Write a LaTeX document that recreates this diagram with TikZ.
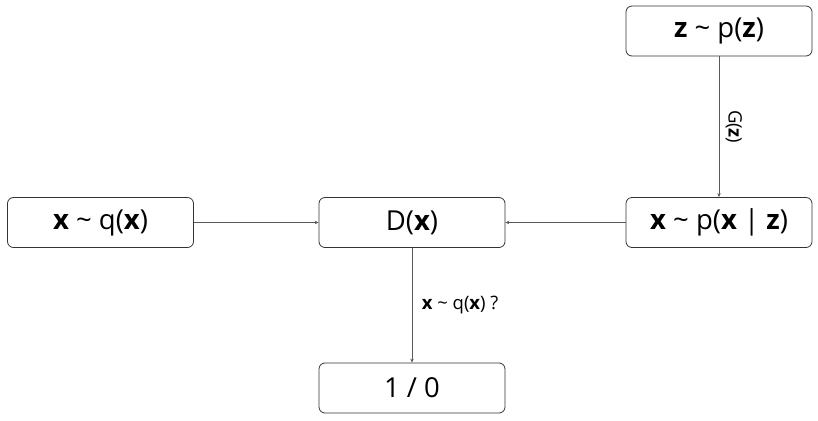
\documentclass[tikz,border=0pt]{standalone}
\usepackage{fontspec}
\setmainfont{Open Sans}
\usetikzlibrary{arrows.meta}
\begin{document}
\begin{tikzpicture}[x=1pt,y=-1pt,
  box/.style={draw=black!80, line width=0.8pt, rounded corners=6pt,
    minimum width=186pt, minimum height=50pt, inner sep=0pt,
    font=\fontsize{27.5}{32}\selectfont, text=black},
  link/.style={draw=black!65, line width=0.9pt, -{Stealth[length=4pt,width=3.5pt]}},
  lbl/.style={font=\fontsize{18.5}{22}\selectfont, text=black}]
  \useasboundingbox (0,0) rectangle (818,420);
  % blocks
  \node[box] (prior) at (719,31) {\textbf{z} \textasciitilde{} p(\textbf{z})};
  \node[box] (gen)   at (719,222.5) {\textbf{x} \textasciitilde{} p(\textbf{x} | \textbf{z})};
  \node[box] (data)  at (100.5,222.5) {\textbf{x} \textasciitilde{} q(\textbf{x})};
  \node[box] (disc)  at (412,222.5) {D(\textbf{x})};
  \node[box] (out)   at (412,388) {1 / 0};
  % connectors
  \draw[link] (prior) -- node[lbl, rotate=-90, anchor=south, yshift=3pt] {G(\textbf{z})} (gen);
  \draw[link] (data) -- (disc);
  \draw[link] (gen) -- (disc);
  \draw[link] (disc) -- node[lbl, anchor=west, xshift=6pt] {\textbf{x} \textasciitilde{} q(\textbf{x}) ?} (out);
\end{tikzpicture}
\end{document}
